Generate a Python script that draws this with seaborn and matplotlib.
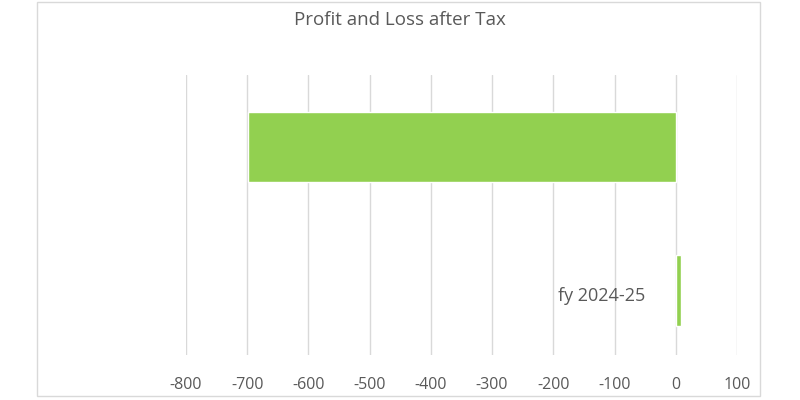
import pandas as pd
import matplotlib.pyplot as plt
import seaborn as sns

sns.set_style("white")
plt.rcParams['font.family'] = ['Open Sans', 'DejaVu Sans']

years = ["fy 2023-24", "fy 2024-25"]
profit = [-698, 9]
ticks = [-800, -700, -600, -500, -400, -300, -200, -100, 0, 100]

df = pd.DataFrame({"year": years, "profit": profit})

fig = plt.figure(figsize=(8, 4), dpi=100)
fig.patches.append(plt.Rectangle((37 / 800, 0.01), 723 / 800, 0.985, transform=fig.transFigure,
                                 fill=False, edgecolor="#d9d9d9", linewidth=1))
ax = fig.add_axes([0.2325, 0.1125, 0.6887, 0.70])

# category labels sit beside the zero line, behind the bars
for i, y in enumerate(years):
    ax.annotate(y, xy=(0, i), xytext=(-22, -4), textcoords="offset points",
                ha="right", va="center", fontsize=13, color="#595959", zorder=1)

sns.barplot(data=df, x="profit", y="year", orient="h", color="#92D050",
            width=0.49, saturation=1, ax=ax, zorder=3)

ax.set_xlim(-800, 100)
ax.set_ylim(1.45, -0.5)
ax.set_xticks(ticks)
ax.set_xticklabels([str(t) for t in ticks], fontsize=11.5, color="#595959")
ax.tick_params(axis="x", length=0, pad=16)
ax.set_yticks([])
ax.grid(axis="x", color="#d9d9d9", linewidth=1)
ax.set_axisbelow(True)
ax.set_xlabel("")
ax.set_ylabel("")
for s in ax.spines.values():
    s.set_visible(False)

fig.text(0.5, 0.95, "Profit and Loss after Tax", ha="center", va="center",
         fontsize=13.5, color="#595959")

plt.savefig("out.png")
